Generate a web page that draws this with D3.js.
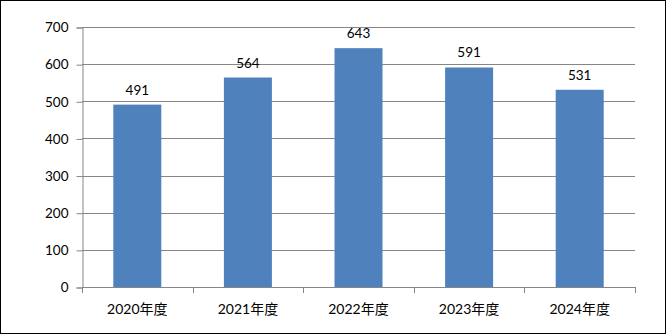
<!DOCTYPE html>
<html><head><meta charset="utf-8">
<script src="https://cdn.jsdelivr.net/npm/d3@7"></script>
<style>html,body{margin:0;padding:0;background:#fff;}svg{display:block;}</style>
</head><body>
<svg id="c" width="666" height="334"></svg>
<script>
const categories = ["2020年度","2021年度","2022年度","2023年度","2024年度"];
const values = [491,564,643,591,531];
const yTicks = [0,100,200,300,400,500,600,700];

(function(){
const svg = d3.select("#c");
const W = 666, H = 334;
const font = "Lato, 'Noto Sans CJK SC', sans-serif";
svg.append("rect").attr("x",0.5).attr("y",0.5).attr("width",W-1).attr("height",H-1)
  .attr("fill","#fff").attr("stroke","#000").attr("stroke-width",1);

const pl = 82, pr = 635, pt = 27, pb = 287;
const x = d3.scaleBand().domain(categories).range([pl,pr]).paddingInner(0.566).paddingOuter(0.283);
const y = d3.scaleLinear().domain([0,700]).range([pb,pt]);

// gridlines
svg.append("g").selectAll("line").data(yTicks.filter(d=>d>0)).join("line")
  .attr("x1",pl).attr("x2",pr)
  .attr("y1",d=>Math.round(y(d))+0.5).attr("y2",d=>Math.round(y(d))+0.5)
  .attr("stroke","#868686").attr("stroke-width",1);

// bars
svg.append("g").selectAll("rect").data(values).join("rect")
  .attr("x",(d,i)=>x(categories[i])).attr("width",x.bandwidth())
  .attr("y",d=>y(d)).attr("height",d=>pb-y(d))
  .attr("fill","#4F81BD");

// y axis
const yAxis = d3.axisLeft(y).tickValues(yTicks).tickSize(6).tickPadding(8);
const gy = svg.append("g").attr("transform",`translate(${pl+0.5},0.5)`).call(yAxis);
gy.selectAll("line,path").attr("stroke","#868686");
gy.selectAll("text").attr("font-family",font).attr("font-size",13.5).attr("fill","#000");

// x axis
const xEdges = d3.scaleLinear().domain([0,categories.length]).range([pl,pr]);
const gx = svg.append("g");
gx.append("line").attr("x1",pl).attr("x2",pr).attr("y1",pb+0.5).attr("y2",pb+0.5).attr("stroke","#868686");
gx.selectAll("line.t").data(d3.range(categories.length+1)).join("line").attr("class","t")
  .attr("x1",d=>Math.round(xEdges(d))+0.5).attr("x2",d=>Math.round(xEdges(d))+0.5)
  .attr("y1",pb).attr("y2",pb+6).attr("stroke","#868686");
gx.selectAll("text").data(categories).join("text")
  .attr("x",d=>x(d)+x.bandwidth()/2).attr("y",pb+27)
  .attr("text-anchor","middle").attr("font-family",font).attr("font-size",14).attr("fill","#000")
  .text(d=>d);

// value labels
svg.append("g").selectAll("text").data(values).join("text")
  .attr("x",(d,i)=>x(categories[i])+x.bandwidth()/2).attr("y",d=>y(d)-10)
  .attr("text-anchor","middle").attr("font-family",font).attr("font-size",13.5).attr("fill","#000")
  .text(d=>d);
})();
</script>
</body></html>
